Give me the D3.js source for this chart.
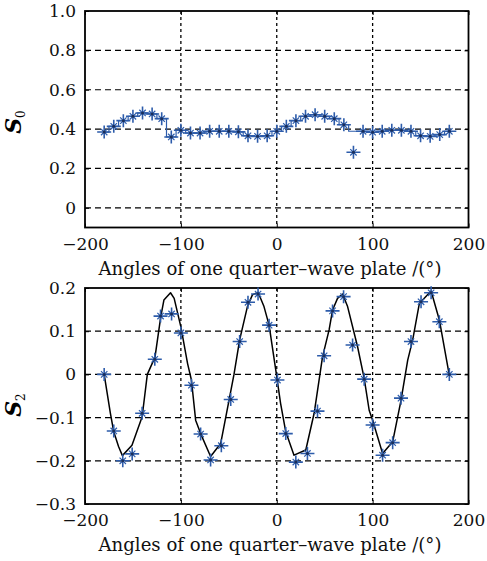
<!DOCTYPE html>
<html><head><meta charset="utf-8">
<script src="https://cdn.jsdelivr.net/npm/d3@7"></script>
<style>html,body{margin:0;padding:0;background:#fff}svg{display:block}</style>
</head><body>
<script>
// ---------- data ----------
const xTicks = [-200, -100, 0, 100, 200];
const xTickLabels = ["\u2212200", "\u2212100", "0", "100", "200"];
const xTitle = "Angles of one quarter\u2013wave plate /(\u00b0)";

// S0 (top panel)
const s0Angles = [-180,-170,-160,-150,-140,-130,-120,-110,-100,-90,-80,-70,-60,-50,-40,-30,-20,-10,0,10,20,30,40,50,60,70,80,90,100,110,120,130,140,150,160,170,180];
const s0Values = [0.385,0.414,0.443,0.465,0.482,0.477,0.453,0.360,0.394,0.380,0.380,0.389,0.389,0.389,0.386,0.366,0.363,0.366,0.389,0.414,0.443,0.465,0.473,0.465,0.453,0.422,0.282,0.389,0.384,0.389,0.394,0.394,0.389,0.366,0.363,0.372,0.389];
const s0LineValues = [0.385,0.414,0.443,0.465,0.482,0.477,0.453,0.360,0.394,0.380,0.380,0.389,0.389,0.389,0.386,0.366,0.363,0.366,0.389,0.414,0.443,0.465,0.473,0.465,0.453,0.422,0.389,0.389,0.384,0.389,0.394,0.394,0.389,0.366,0.363,0.372,0.389];
const s0YTicks = [0, 0.2, 0.4, 0.6, 0.8, 1.0];
const s0YTickLabels = ["0", "0.2", "0.4", "0.6", "0.8", "1.0"];

// S2 (bottom panel) measured points
const s2Angles = [-180,-170,-160.6,-150.8,-140.4,-127.2,-121.2,-109.7,-100,-89,-79.4,-69,-57.8,-48,-38.7,-30,-19.5,-8,0.7,9.4,19.9,32,42.5,49.4,58.2,69.7,79.1,91.2,100,110.4,120.9,129.6,140,150.5,161,169.6,180];
const s2Values = [0.0,-0.131,-0.2,-0.184,-0.09,0.035,0.135,0.14,0.096,-0.025,-0.138,-0.198,-0.165,-0.058,0.076,0.167,0.186,0.114,-0.013,-0.137,-0.203,-0.183,-0.085,0.043,0.147,0.18,0.068,-0.011,-0.117,-0.187,-0.158,-0.055,0.076,0.168,0.189,0.122,0.0];
// S2 fitted curve
const s2FitAngles = [-180,-173.5,-170,-165,-161,-151,-140.4,-135,-127,-121,-117.7,-110.8,-107,-100,-93,-89,-84.6,-79.4,-69,-58.5,-49.8,-44.6,-38.7,-30.6,-25.4,-19.5,-13.3,-8,-1,4,9.4,18,30.3,39,47.7,54.6,58.2,63.4,68.6,73.9,84.3,91.2,96.4,100,110.4,120.9,129.6,136.6,141.8,148.7,161,169.6,180];
const s2FitValues = [0.0,-0.09,-0.133,-0.167,-0.188,-0.164,-0.098,0.0,0.04,0.133,0.172,0.189,0.176,0.11,0.025,-0.013,-0.106,-0.137,-0.19,-0.16,-0.06,0.0,0.08,0.157,0.184,0.19,0.157,0.114,0.01,-0.067,-0.133,-0.187,-0.175,-0.09,0.04,0.103,0.149,0.176,0.186,0.157,0.064,-0.009,-0.083,-0.106,-0.183,-0.156,-0.06,0.033,0.08,0.164,0.193,0.126,-0.002];
const s2YTicks = [0.2, 0.1, 0, -0.1, -0.2, -0.3];
const s2YTickLabels = ["0.2", "0.1", "0", "\u22120.1", "\u22120.2", "\u22120.3"];

// ---------- drawing ----------
const W = 487, H = 561;
const FONT = "'DejaVu Serif', 'Liberation Serif', serif";
const BLUE = "#2d5cab";
const svg = d3.select("body").append("svg").attr("width", W).attr("height", H)
  .style("background", "#fff");

const x = d3.scaleLinear().domain([-200, 200]).range([85, 468.5]);

function panel(opt) {
  const y = d3.scaleLinear().domain(opt.yDomain).range([opt.bottom, opt.top]);
  const g = svg.append("g");
  g.selectAll(".hg").data(opt.yTicks.filter(v => v > opt.yDomain[0] + 1e-9 && v < opt.yDomain[1] - 1e-9))
    .enter().append("line")
    .attr("x1", x(-200)).attr("x2", x(200))
    .attr("y1", d => y(d)).attr("y2", d => y(d))
    .attr("stroke", "#000").attr("stroke-width", 1.2).attr("stroke-dasharray", "6,4");
  g.selectAll(".vg").data(xTicks.filter(v => v > -200 && v < 200))
    .enter().append("line")
    .attr("x1", d => x(d)).attr("x2", d => x(d))
    .attr("y1", opt.top).attr("y2", opt.bottom)
    .attr("stroke", "#000").attr("stroke-width", 1.3).attr("stroke-dasharray", "3,3");

  const yAxisL = d3.axisLeft(y).tickValues(opt.yTicks).tickSize(-4).tickFormat((d, i) => opt.yLabels[i]).tickPadding(9);
  const yAxisR = d3.axisRight(y).tickValues(opt.yTicks).tickSize(-4).tickFormat("");
  const xAxisB = d3.axisBottom(x).tickValues(xTicks).tickSize(-4).tickFormat((d, i) => xTickLabels[i]).tickPadding(10);
  const xAxisT = d3.axisTop(x).tickValues(xTicks).tickSize(-4).tickFormat("");
  const gl = g.append("g").attr("transform", `translate(${x(-200)},0)`).call(yAxisL);
  const gr = g.append("g").attr("transform", `translate(${x(200)},0)`).call(yAxisR);
  const gb = g.append("g").attr("transform", `translate(0,${opt.bottom})`).call(xAxisB);
  const gt = g.append("g").attr("transform", `translate(0,${opt.top})`).call(xAxisT);
  [gl, gr, gb, gt].forEach(a => {
    a.select(".domain").remove();
    a.selectAll(".tick line").attr("stroke", "#000").attr("stroke-width", 1);
    a.selectAll("text").attr("font-family", FONT).attr("font-size", 17).attr("fill", "#111");
  });
  gb.selectAll("text").attr("dy", "0.71em");

  g.append("rect").attr("x", x(-200)).attr("y", opt.top)
    .attr("width", x(200) - x(-200)).attr("height", opt.bottom - opt.top)
    .attr("fill", "none").attr("stroke", "#000").attr("stroke-width", 1.8);

  const t = g.append("text").attr("x", 270).attr("y", opt.bottom + 47)
    .attr("text-anchor", "middle").attr("font-family", FONT).attr("font-size", 17)
    .attr("fill", "#111").text(xTitle);
  const w = t.node().getComputedTextLength();
  t.attr("font-size", 17 * 343 / w);

  const yt = g.append("text")
    .attr("transform", `translate(${opt.yLabelX},${opt.yLabelY}) rotate(-90)`)
    .attr("text-anchor", "middle").attr("font-family", FONT)
    .attr("font-size", 22).attr("font-weight", "bold").attr("font-style", "italic").attr("fill", "#000");
  yt.append("tspan").text("S");
  yt.append("tspan").attr("font-size", 12).attr("font-style", "normal").attr("font-weight", "normal")
    .attr("dy", 4).text(opt.sub);
  return y;
}

function markers(g, xs, ys, y) {
  const m = g.selectAll(".mk").data(xs.map((a, i) => [a, ys[i]])).enter().append("g")
    .attr("transform", d => `translate(${x(d[0])},${y(d[1])})`);
  m.append("path").attr("d", "M-7,0H7M0,-6.5V6.5").attr("stroke", BLUE).attr("stroke-width", 1.6).attr("fill", "none");
  m.append("path").attr("d", "M-3.2,-3.2L3.2,3.2M-3.2,3.2L3.2,-3.2").attr("stroke", BLUE).attr("stroke-width", 1.2).attr("fill", "none");
  m.append("circle").attr("r", 1.5).attr("fill", "#1b2f5a");
}

const y0 = panel({ top: 11, bottom: 227.5, yDomain: [-0.1, 1.0], yTicks: s0YTicks, yLabels: s0YTickLabels,
  yLabelX: 21, yLabelY: 122, sub: "0" });
const gTop = svg.append("g");
gTop.append("path")
  .datum(s0Angles.map((a, i) => [a, s0LineValues[i]]))
  .attr("d", d3.line().x(d => x(d[0])).y(d => y0(d[1])).curve(d3.curveStep))
  .attr("fill", "none").attr("stroke", BLUE).attr("stroke-width", 1.2);
markers(gTop, s0Angles, s0Values, y0);

const y2 = panel({ top: 288, bottom: 504, yDomain: [-0.3, 0.2], yTicks: s2YTicks, yLabels: s2YTickLabels,
  yLabelX: 21, yLabelY: 405, sub: "2" });
const gBot = svg.append("g");
gBot.append("path")
  .datum(s2FitAngles.map((a, i) => [a, s2FitValues[i]]))
  .attr("d", d3.line().x(d => x(d[0])).y(d => y2(d[1])))
  .attr("fill", "none").attr("stroke", "#000").attr("stroke-width", 1.5).attr("stroke-linejoin", "round");
markers(gBot, s2Angles, s2Values, y2);
</script>
</body></html>
